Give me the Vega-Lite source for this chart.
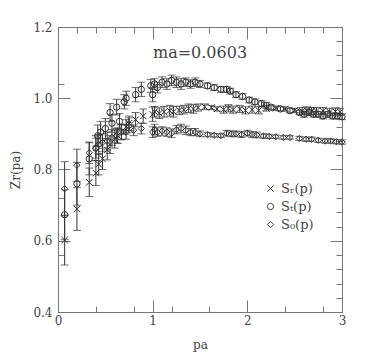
{
  "$schema": "https://vega.github.io/schema/vega-lite/v6.json",
  "width": 284,
  "height": 285,
  "autosize": "none",
  "padding": {"left": 58, "top": 27, "right": 27, "bottom": 42},
  "background": "white",
  "config": {
    "view": {"stroke": "#777", "strokeWidth": 1},
    "font": "DejaVu Serif",
    "axis": {"domainColor": "#777", "tickColor": "#777", "labelColor": "#444", "titleColor": "#444", "labelFont": "DejaVu Serif", "titleFont": "DejaVu Serif", "labelFontSize": 12, "titleFontSize": 12, "titleFontWeight": "normal", "grid": false, "labelOverlap": false, "labelFlush": false}
  },
  "title": {"text": "ma=0.0603", "anchor": "middle", "frame": "group", "dy": 44, "fontSize": 16, "font": "DejaVu Serif", "fontWeight": "normal", "color": "#444"},
  "data": {"values": [
    {"s":"R","pa":0.07,"z":0.602,"e":0.07},
    {"s":"R","pa":0.2,"z":0.689,"e":0.06},
    {"s":"R","pa":0.33,"z":0.764,"e":0.04},
    {"s":"R","pa":0.4,"z":0.79,"e":0.035},
    {"s":"R","pa":0.43,"z":0.815,"e":0.03},
    {"s":"R","pa":0.47,"z":0.83,"e":0.03},
    {"s":"R","pa":0.52,"z":0.855,"e":0.028},
    {"s":"R","pa":0.55,"z":0.87,"e":0.025},
    {"s":"R","pa":0.6,"z":0.885,"e":0.025},
    {"s":"R","pa":0.63,"z":0.895,"e":0.022},
    {"s":"R","pa":0.67,"z":0.905,"e":0.022},
    {"s":"R","pa":0.72,"z":0.92,"e":0.02},
    {"s":"R","pa":0.75,"z":0.93,"e":0.02},
    {"s":"R","pa":0.82,"z":0.94,"e":0.02},
    {"s":"R","pa":0.9,"z":0.95,"e":0.02},
    {"s":"R","pa":1.0,"z":0.955,"e":0.02},
    {"s":"R","pa":1.02,"z":0.962,"e":0.015},
    {"s":"R","pa":1.07,"z":0.958,"e":0.015},
    {"s":"R","pa":1.12,"z":0.962,"e":0.015},
    {"s":"R","pa":1.18,"z":0.965,"e":0.015},
    {"s":"R","pa":1.22,"z":0.962,"e":0.015},
    {"s":"R","pa":1.28,"z":0.966,"e":0.012},
    {"s":"R","pa":1.33,"z":0.968,"e":0.012},
    {"s":"R","pa":1.38,"z":0.972,"e":0.012},
    {"s":"R","pa":1.43,"z":0.97,"e":0.012},
    {"s":"R","pa":1.48,"z":0.974,"e":0.01},
    {"s":"R","pa":1.55,"z":0.976,"e":0.008},
    {"s":"R","pa":1.62,"z":0.974,"e":0.006},
    {"s":"R","pa":1.68,"z":0.97,"e":0.006},
    {"s":"R","pa":1.75,"z":0.968,"e":0.01},
    {"s":"R","pa":1.8,"z":0.972,"e":0.01},
    {"s":"R","pa":1.85,"z":0.968,"e":0.01},
    {"s":"R","pa":1.92,"z":0.97,"e":0.01},
    {"s":"R","pa":1.98,"z":0.966,"e":0.01},
    {"s":"R","pa":2.05,"z":0.968,"e":0.01},
    {"s":"R","pa":2.12,"z":0.966,"e":0.01},
    {"s":"R","pa":2.2,"z":0.972,"e":0.008},
    {"s":"R","pa":2.3,"z":0.972,"e":0.006},
    {"s":"R","pa":2.4,"z":0.97,"e":0.006},
    {"s":"R","pa":2.5,"z":0.966,"e":0.006},
    {"s":"R","pa":2.58,"z":0.964,"e":0.01},
    {"s":"R","pa":2.63,"z":0.966,"e":0.01},
    {"s":"R","pa":2.68,"z":0.964,"e":0.01},
    {"s":"R","pa":2.73,"z":0.964,"e":0.01},
    {"s":"R","pa":2.8,"z":0.964,"e":0.01},
    {"s":"R","pa":2.87,"z":0.962,"e":0.01},
    {"s":"R","pa":2.93,"z":0.963,"e":0.01},
    {"s":"R","pa":2.98,"z":0.962,"e":0.01},
    {"s":"T","pa":0.07,"z":0.673,"e":0.07},
    {"s":"T","pa":0.2,"z":0.76,"e":0.06},
    {"s":"T","pa":0.33,"z":0.83,"e":0.045},
    {"s":"T","pa":0.4,"z":0.86,"e":0.035},
    {"s":"T","pa":0.42,"z":0.895,"e":0.03},
    {"s":"T","pa":0.45,"z":0.905,"e":0.03},
    {"s":"T","pa":0.5,"z":0.915,"e":0.028},
    {"s":"T","pa":0.55,"z":0.96,"e":0.025},
    {"s":"T","pa":0.57,"z":0.93,"e":0.025},
    {"s":"T","pa":0.62,"z":0.975,"e":0.022},
    {"s":"T","pa":0.65,"z":0.935,"e":0.022},
    {"s":"T","pa":0.7,"z":0.99,"e":0.02},
    {"s":"T","pa":0.72,"z":1.0,"e":0.02},
    {"s":"T","pa":0.75,"z":0.925,"e":0.02},
    {"s":"T","pa":0.82,"z":1.01,"e":0.02},
    {"s":"T","pa":0.88,"z":1.025,"e":0.02},
    {"s":"T","pa":0.98,"z":1.035,"e":0.018},
    {"s":"T","pa":1.0,"z":1.01,"e":0.02},
    {"s":"T","pa":1.02,"z":1.04,"e":0.015},
    {"s":"T","pa":1.05,"z":1.03,"e":0.015},
    {"s":"T","pa":1.1,"z":1.045,"e":0.015},
    {"s":"T","pa":1.15,"z":1.04,"e":0.015},
    {"s":"T","pa":1.2,"z":1.05,"e":0.015},
    {"s":"T","pa":1.25,"z":1.045,"e":0.015},
    {"s":"T","pa":1.3,"z":1.04,"e":0.015},
    {"s":"T","pa":1.35,"z":1.045,"e":0.012},
    {"s":"T","pa":1.4,"z":1.04,"e":0.012},
    {"s":"T","pa":1.45,"z":1.045,"e":0.012},
    {"s":"T","pa":1.5,"z":1.04,"e":0.01},
    {"s":"T","pa":1.58,"z":1.035,"e":0.008},
    {"s":"T","pa":1.65,"z":1.03,"e":0.008},
    {"s":"T","pa":1.72,"z":1.025,"e":0.008},
    {"s":"T","pa":1.78,"z":1.025,"e":0.008},
    {"s":"T","pa":1.82,"z":1.02,"e":0.008},
    {"s":"T","pa":1.88,"z":1.01,"e":0.008},
    {"s":"T","pa":1.95,"z":1.005,"e":0.008},
    {"s":"T","pa":2.02,"z":0.995,"e":0.008},
    {"s":"T","pa":2.08,"z":0.99,"e":0.008},
    {"s":"T","pa":2.15,"z":0.985,"e":0.008},
    {"s":"T","pa":2.2,"z":0.98,"e":0.008},
    {"s":"T","pa":2.25,"z":0.975,"e":0.006},
    {"s":"T","pa":2.35,"z":0.97,"e":0.006},
    {"s":"T","pa":2.45,"z":0.965,"e":0.006},
    {"s":"T","pa":2.55,"z":0.96,"e":0.006},
    {"s":"T","pa":2.6,"z":0.955,"e":0.008},
    {"s":"T","pa":2.65,"z":0.96,"e":0.008},
    {"s":"T","pa":2.7,"z":0.955,"e":0.008},
    {"s":"T","pa":2.75,"z":0.955,"e":0.008},
    {"s":"T","pa":2.8,"z":0.95,"e":0.008},
    {"s":"T","pa":2.85,"z":0.955,"e":0.008},
    {"s":"T","pa":2.9,"z":0.95,"e":0.008},
    {"s":"T","pa":2.95,"z":0.95,"e":0.008},
    {"s":"T","pa":3.0,"z":0.948,"e":0.008},
    {"s":"0","pa":0.07,"z":0.746,"e":0.076},
    {"s":"0","pa":0.2,"z":0.812,"e":0.045},
    {"s":"0","pa":0.33,"z":0.847,"e":0.03},
    {"s":"0","pa":0.4,"z":0.86,"e":0.028},
    {"s":"0","pa":0.43,"z":0.87,"e":0.028},
    {"s":"0","pa":0.47,"z":0.875,"e":0.025},
    {"s":"0","pa":0.52,"z":0.88,"e":0.025},
    {"s":"0","pa":0.57,"z":0.89,"e":0.022},
    {"s":"0","pa":0.62,"z":0.895,"e":0.02},
    {"s":"0","pa":0.67,"z":0.905,"e":0.02},
    {"s":"0","pa":0.72,"z":0.905,"e":0.02},
    {"s":"0","pa":0.8,"z":0.91,"e":0.015},
    {"s":"0","pa":0.88,"z":0.915,"e":0.015},
    {"s":"0","pa":1.0,"z":0.905,"e":0.015},
    {"s":"0","pa":1.02,"z":0.912,"e":0.015},
    {"s":"0","pa":1.05,"z":0.905,"e":0.012},
    {"s":"0","pa":1.1,"z":0.908,"e":0.012},
    {"s":"0","pa":1.15,"z":0.905,"e":0.012},
    {"s":"0","pa":1.2,"z":0.902,"e":0.012},
    {"s":"0","pa":1.25,"z":0.912,"e":0.012},
    {"s":"0","pa":1.3,"z":0.915,"e":0.012},
    {"s":"0","pa":1.35,"z":0.91,"e":0.012},
    {"s":"0","pa":1.4,"z":0.905,"e":0.01},
    {"s":"0","pa":1.45,"z":0.905,"e":0.01},
    {"s":"0","pa":1.5,"z":0.9,"e":0.008},
    {"s":"0","pa":1.58,"z":0.898,"e":0.006},
    {"s":"0","pa":1.65,"z":0.896,"e":0.005},
    {"s":"0","pa":1.72,"z":0.895,"e":0.005},
    {"s":"0","pa":1.78,"z":0.902,"e":0.008},
    {"s":"0","pa":1.83,"z":0.9,"e":0.008},
    {"s":"0","pa":1.88,"z":0.9,"e":0.008},
    {"s":"0","pa":1.94,"z":0.898,"e":0.008},
    {"s":"0","pa":2.0,"z":0.902,"e":0.008},
    {"s":"0","pa":2.05,"z":0.898,"e":0.008},
    {"s":"0","pa":2.1,"z":0.897,"e":0.008},
    {"s":"0","pa":2.17,"z":0.894,"e":0.006},
    {"s":"0","pa":2.23,"z":0.893,"e":0.006},
    {"s":"0","pa":2.3,"z":0.892,"e":0.005},
    {"s":"0","pa":2.38,"z":0.89,"e":0.005},
    {"s":"0","pa":2.45,"z":0.89,"e":0.005},
    {"s":"0","pa":2.55,"z":0.887,"e":0.006},
    {"s":"0","pa":2.62,"z":0.885,"e":0.006},
    {"s":"0","pa":2.68,"z":0.885,"e":0.006},
    {"s":"0","pa":2.75,"z":0.882,"e":0.006},
    {"s":"0","pa":2.82,"z":0.88,"e":0.006},
    {"s":"0","pa":2.88,"z":0.88,"e":0.006},
    {"s":"0","pa":2.94,"z":0.878,"e":0.006},
    {"s":"0","pa":3.0,"z":0.877,"e":0.006}
  ]},
  "layer": [
    {
      "layer": [
        {
          "mark": {"type": "errorbar", "ticks": {"size": 8, "color": "#333"}, "rule": {"color": "#333"}, "thickness": 1},
          "encoding": {
            "x": {"field": "pa", "type": "quantitative", "scale": {"domain": [0, 3], "nice": false, "zero": false},
              "axis": {"orient": "bottom", "title": null, "values": [0,0.2,0.4,0.6,0.8,1,1.2,1.4,1.6,1.8,2,2.2,2.4,2.6,2.8,3], "labels": false, "tickSize": -6}},
            "y": {"field": "z", "type": "quantitative", "scale": {"domain": [0.4, 1.2], "nice": false, "zero": false},
              "axis": {"orient": "left", "title": null, "values": [0.4,0.44,0.48,0.52,0.56,0.6,0.64,0.68,0.72,0.76,0.8,0.84,0.88,0.92,0.96,1.0,1.04,1.08,1.12,1.16,1.2], "labels": false, "tickSize": -6}},
            "yError": {"field": "e"}
          }
        },
        {
          "mark": {"type": "point", "filled": false, "strokeWidth": 1, "color": "#333", "size": 40, "opacity": 1},
          "encoding": {
            "x": {"field": "pa", "type": "quantitative"},
            "y": {"field": "z", "type": "quantitative"},
            "shape": {"field": "s", "type": "nominal",
              "scale": {"domain": ["R", "T", "0"], "range": ["M-1,-1L1,1M-1,1L1,-1", "circle", "diamond"]},
              "legend": {"title": null, "orient": "none", "legendX": 206, "legendY": 155, "labelExpr": "datum.label == 'R' ? 'Sᵣ(p)' : datum.label == 'T' ? 'Sₜ(p)' : 'S₀(p)'", "labelFont": "DejaVu Serif", "labelFontSize": 13, "labelColor": "#444", "symbolStrokeColor": "#444", "symbolFillColor": "transparent", "symbolSize": 40, "symbolStrokeWidth": 1, "rowPadding": 4}
            }
          }
        }
      ]
    },
    {
      "mark": {"type": "point", "opacity": 0},
      "encoding": {
        "x": {"field": "pa", "type": "quantitative",
          "axis": {"orient": "top", "title": null, "values": [0,0.2,0.4,0.6,0.8,1,1.2,1.4,1.6,1.8,2,2.2,2.4,2.6,2.8,3], "labels": false, "tickSize": -6}},
        "y": {"field": "z", "type": "quantitative",
          "axis": {"orient": "right", "title": null, "values": [0.4,0.44,0.48,0.52,0.56,0.6,0.64,0.68,0.72,0.76,0.8,0.84,0.88,0.92,0.96,1.0,1.04,1.08,1.12,1.16,1.2], "labels": false, "tickSize": -6}}
      }
    },
    {
      "mark": {"type": "point", "opacity": 0},
      "encoding": {
        "x": {"field": "pa", "type": "quantitative",
          "axis": {"orient": "bottom", "title": "pa", "values": [0, 1, 2, 3], "format": "d", "domain": false, "tickSize": -12, "labelPadding": 15, "titlePadding": 13}},
        "y": {"field": "z", "type": "quantitative",
          "axis": {"orient": "left", "title": "Zr(pa)", "values": [0.4, 0.6, 0.8, 1.0, 1.2], "format": ".1f", "domain": false, "tickSize": -12, "labelPadding": 18, "titlePadding": 10}}
      }
    },
    {
      "mark": {"type": "point", "opacity": 0},
      "encoding": {
        "x": {"field": "pa", "type": "quantitative",
          "axis": {"orient": "top", "title": null, "values": [1, 2], "labels": false, "domain": false, "tickSize": -12}},
        "y": {"field": "z", "type": "quantitative",
          "axis": {"orient": "right", "title": null, "values": [0.4, 0.6, 0.8, 1.0, 1.2], "labels": false, "domain": false, "tickSize": -12}}
      }
    }
  ],
  "resolve": {"axis": {"x": "independent", "y": "independent"}}
}
